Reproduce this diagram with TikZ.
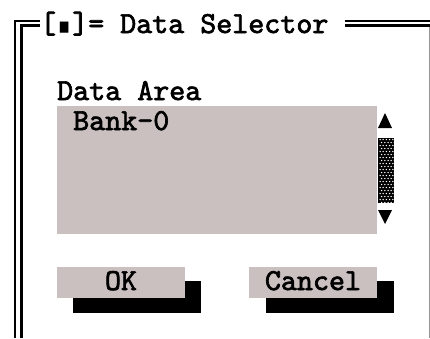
\documentclass[tikz,border=0pt]{standalone}
\usepackage{fontspec}
\newfontfamily\dosfont{lmmono10-regular}[Extension=.otf,FakeBold=2.2]
\newfontfamily\symfont{DejaVu Sans Mono}
\definecolor{panel}{RGB}{203,192,192}
\definecolor{edge}{RGB}{150,150,150}
\begin{document}
\begin{tikzpicture}[x=1pt,y=-1pt,
  frameline/.style={line width=2.4pt,black},
  label/.style={inner sep=0pt,anchor=base west,font=\dosfont\fontsize{30.5}{33}\selectfont},
  btnface/.style={fill=panel,draw=none},
  btnshadow/.style={fill=black,draw=none},
  arrowtri/.style={fill=black,draw=none}]
\useasboundingbox (0,0) rectangle (430,338);
\fill[white] (0,0) rectangle (430,338);

% window frame: double rule on the left and top, thin rule on the right
\draw[frameline] (15,338) -- (15,21) -- (40,21);
\draw[frameline] (21.5,338) -- (21.5,25.3) -- (40,25.3);
\draw[frameline] (345,21) -- (430,21);
\draw[frameline] (345,25.3) -- (430,25.3);
\draw[edge,line width=1pt] (429,26.5) -- (429,338);

% title
\node[label] (title) at (40,33) {[\makebox[16pt]{\symfont\fontsize{17}{17}\selectfont\raisebox{0.5pt}{\scalebox{0.85}[1.1]{■}}}]= Data Selector};

% list box
\node[label] (arealabel) at (57,100) {Data Area};
\fill[panel] (57,106) rectangle (377,234);
\node[label] (item) at (73,130) {Bank-0};

% scroll bar
\fill[arrowtri] (385,113) -- (392,128) -- (378,128) -- cycle;
\fill[black] (378,138) rectangle (394,203);
\foreach \r in {0,...,21}{
  \pgfmathsetmacro{\yy}{139.5+3*\r}
  \pgfmathsetmacro{\xo}{mod(\r,2)*1.6}
  \foreach \c in {0,...,4}{
    \fill[white] (380+\xo+3.2*\c,\yy) circle (0.75);
  }
}
\fill[arrowtri] (378,210) -- (392,210) -- (385,224) -- cycle;

% buttons with drop shadows
\fill[btnshadow] (73,281) rectangle (201,313);
\fill[btnface] (57,267) rectangle (185,298);
\node[label,anchor=base] (ok) at (121,290) {OK};

\fill[btnshadow] (266,281) rectangle (394,313);
\fill[btnface] (249,267) rectangle (377,298);
\node[label,anchor=base] (cancel) at (313,290) {Cancel};
\end{tikzpicture}
\end{document}
